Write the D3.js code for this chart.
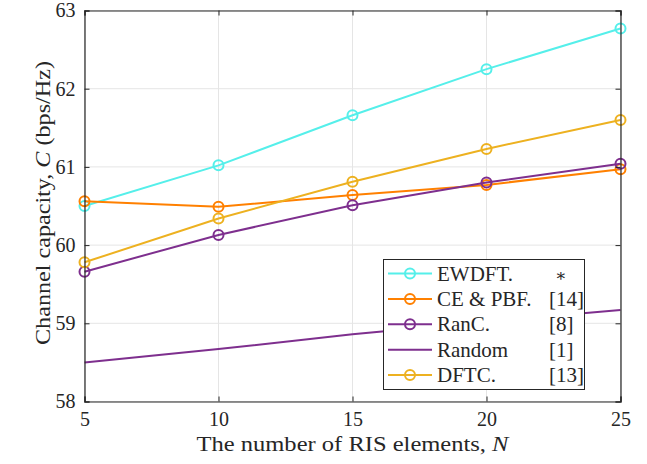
<!DOCTYPE html>
<html>
<head>
<meta charset="utf-8">
<script src="https://cdn.jsdelivr.net/npm/d3@7"></script>
<style>
  body { margin: 0; background: #fff; }
  svg text { font-family: "Liberation Serif", serif; }
</style>
</head>
<body>
<svg width="647" height="464"></svg>
<script>
// data
const elements = [5, 10, 15, 20, 25];
const ewdft = [60.50, 61.02, 61.66, 62.25, 62.77];
const cePbf = [60.56, 60.49, 60.64, 60.77, 60.97];
const ranC = [59.66, 60.13, 60.51, 60.80, 61.04];
const random = [58.50, 58.67, 58.86, 59.02, 59.17];
const dftc = [59.78, 60.34, 60.81, 61.23, 61.60];
const xTicks = [5, 10, 15, 20, 25];
const yTicks = [58, 59, 60, 61, 62, 63];

const series = [
  { name: "EWDFT.", ref: "∗", values: ewdft, color: "#55EFEA", marker: true },
  { name: "CE & PBF.", ref: "[14]", values: cePbf, color: "#FF8000", marker: true },
  { name: "RanC.", ref: "[8]", values: ranC, color: "#7E2F8E", marker: true },
  { name: "Random", ref: "[1]", values: random, color: "#7E2F8E", marker: false },
  { name: "DFTC.", ref: "[13]", values: dftc, color: "#EDB120", marker: true }
];

const svg = d3.select("svg");
const m = { left: 84.5, right: 620.5, top: 10.5, bottom: 401.5 };

const x = d3.scaleLinear().domain([5, 25]).range([m.left, m.right]);
const y = d3.scaleLinear().domain([58, 63]).range([m.bottom, m.top]);

// grid
svg.append("g").selectAll("line").data(xTicks).enter().append("line")
  .attr("x1", d => x(d)).attr("x2", d => x(d))
  .attr("y1", m.top).attr("y2", m.bottom)
  .attr("stroke", "#e5e5e5").attr("stroke-width", 1);
svg.append("g").selectAll("line").data(yTicks).enter().append("line")
  .attr("y1", d => y(d)).attr("y2", d => y(d))
  .attr("x1", m.left).attr("x2", m.right)
  .attr("stroke", "#e5e5e5").attr("stroke-width", 1);

// lines
const line = d3.line().x((d, i) => x(elements[i])).y(d => y(d));
const sg = svg.selectAll(".series").data(series).enter().append("g");
sg.append("path")
  .attr("d", d => line(d.values))
  .attr("fill", "none")
  .attr("stroke", d => d.color)
  .attr("stroke-width", 2);
sg.filter(d => d.marker).selectAll("circle")
  .data(d => d.values.map((v, i) => ({ v, i, color: d.color })))
  .enter().append("circle")
  .attr("cx", d => x(elements[d.i]))
  .attr("cy", d => y(d.v))
  .attr("r", 5)
  .attr("fill", "none")
  .attr("stroke", d => d.color)
  .attr("stroke-width", 2);

// axes
const fontSize = 21;
const fmt = d3.format("d");
svg.append("g").attr("transform", `translate(0,${m.bottom})`)
  .call(d3.axisBottom(x).tickValues(xTicks).tickSize(-5).tickPadding(10).tickFormat(fmt));
svg.append("g").attr("transform", `translate(${m.left},0)`)
  .call(d3.axisLeft(y).tickValues(yTicks).tickSize(-5).tickPadding(9).tickFormat(fmt));
svg.append("g").attr("transform", `translate(0,${m.top})`)
  .call(d3.axisTop(x).tickValues(xTicks).tickSize(-5).tickFormat(""));
svg.append("g").attr("transform", `translate(${m.right},0)`)
  .call(d3.axisRight(y).tickValues(yTicks).tickSize(-5).tickFormat(""));
svg.selectAll(".domain").attr("stroke", "#262626").attr("stroke-width", 1.2);
svg.selectAll(".tick line").attr("stroke", "#262626");
svg.selectAll(".tick text")
  .style("font-family", "'Liberation Serif', serif")
  .style("font-size", "20px")
  .attr("fill", "#262626");

// axis titles
const xt = svg.append("text")
  .attr("x", (m.left + m.right) / 2).attr("y", 451)
  .attr("text-anchor", "middle").attr("font-size", 22).attr("fill", "#262626")
  .attr("textLength", 312).attr("lengthAdjust", "spacingAndGlyphs");
xt.append("tspan").text("The number of RIS elements, ");
xt.append("tspan").attr("font-style", "italic").text("N");

const yt = svg.append("text")
  .attr("transform", `translate(50,203) rotate(-90)`)
  .attr("text-anchor", "middle").attr("font-size", 22).attr("fill", "#262626")
  .attr("textLength", 284).attr("lengthAdjust", "spacingAndGlyphs");
yt.append("tspan").text("Channel capacity, ");
yt.append("tspan").attr("font-style", "italic").text("C");
yt.append("tspan").text(" (bps/Hz)");

// legend
const lg = svg.append("g");
lg.append("rect")
  .attr("x", 383.5).attr("y", 259.5).attr("width", 201).attr("height", 130)
  .attr("fill", "#fff").attr("stroke", "#262626").attr("stroke-width", 1);
const rows = lg.selectAll(".row").data(series).enter().append("g")
  .attr("transform", (d, i) => `translate(0,${273.5 + i * 25.4})`);
rows.append("line")
  .attr("x1", 388).attr("x2", 432).attr("y1", 0).attr("y2", 0)
  .attr("stroke", d => d.color).attr("stroke-width", 2);
rows.filter(d => d.marker).append("circle")
  .attr("cx", 410).attr("cy", 0).attr("r", 5)
  .attr("fill", "none").attr("stroke", d => d.color).attr("stroke-width", 2);
rows.append("text")
  .attr("x", 437).attr("y", 7)
  .attr("font-size", fontSize).attr("fill", "#262626")
  .text(d => d.name);
rows.append("text")
  .attr("x", (d, i) => i === 0 ? 561 : 549).attr("y", 7)
  .attr("text-anchor", (d, i) => i === 0 ? "middle" : "start")
  .style("font-family", (d, i) => i === 0 ? "'DejaVu Serif', serif" : null)
  .attr("font-size", (d, i) => i === 0 ? 17 : fontSize)
  .attr("fill", "#262626")
  .text(d => d.ref);
</script>
</body>
</html>
